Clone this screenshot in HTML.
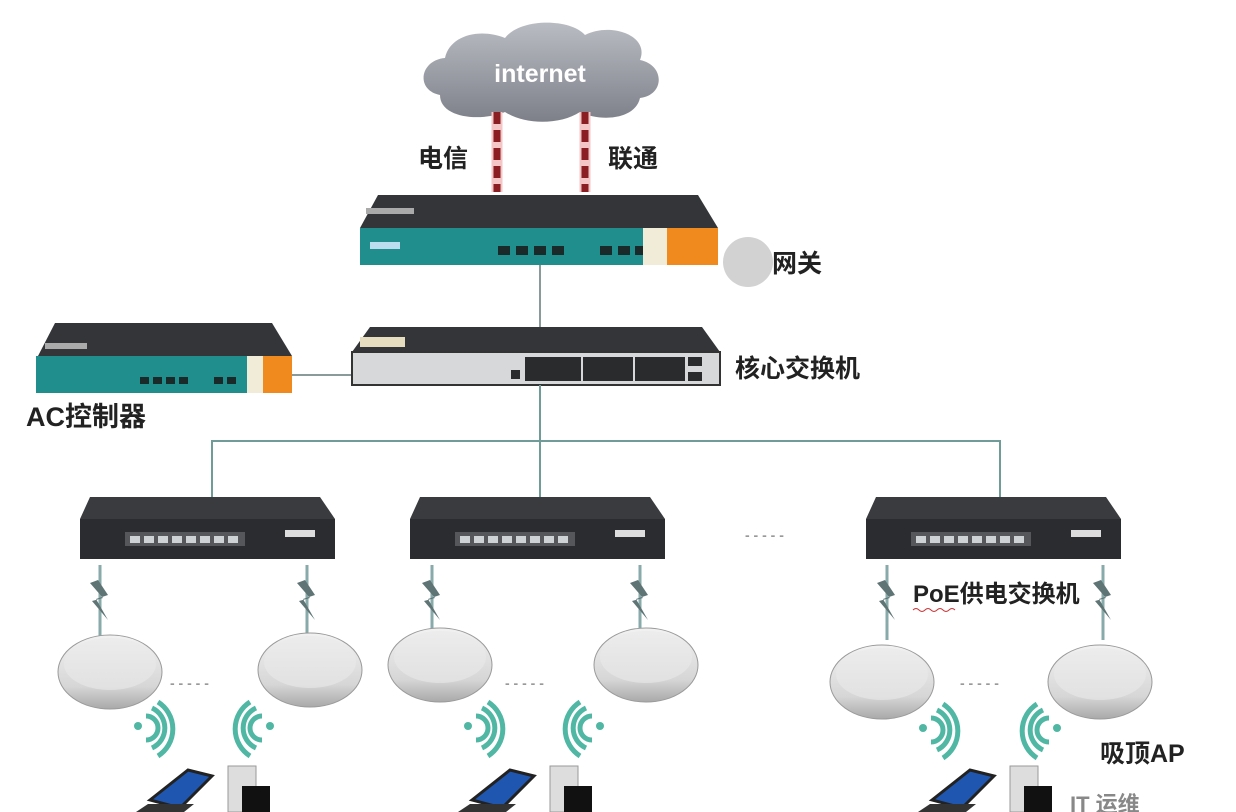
<!DOCTYPE html>
<html><head><meta charset="utf-8"><style>
html,body{margin:0;padding:0;background:#fff;}
svg{display:block}
text{font-family:"Liberation Sans","Noto Sans CJK SC",sans-serif;font-weight:bold;}
</style></head><body>
<svg width="1236" height="812" viewBox="0 0 1236 812" xmlns="http://www.w3.org/2000/svg">
<defs>
<linearGradient id="cl" x1="0" y1="0" x2="0" y2="1"><stop offset="0" stop-color="#b9bcc2"/><stop offset="1" stop-color="#7d8089"/></linearGradient>
<linearGradient id="ap" x1="0" y1="0" x2="0" y2="1"><stop offset="0" stop-color="#f2f2f2"/><stop offset="0.7" stop-color="#d6d6d6"/><stop offset="1" stop-color="#a9a9a9"/></linearGradient>
<g id="poe">
 <polygon points="10,0 240,0 255,22 0,22" fill="#3a3b3e"/>
 <rect x="0" y="22" width="255" height="40" fill="#2b2c2f"/>
 <rect x="45" y="35" width="120" height="14" fill="#55575a"/>
 <g fill="#cfd2d4"><rect x="50" y="39" width="10" height="7"/><rect x="64" y="39" width="10" height="7"/><rect x="78" y="39" width="10" height="7"/><rect x="92" y="39" width="10" height="7"/><rect x="106" y="39" width="10" height="7"/><rect x="120" y="39" width="10" height="7"/><rect x="134" y="39" width="10" height="7"/><rect x="148" y="39" width="10" height="7"/></g>
 <rect x="205" y="33" width="30" height="7" fill="#ddd"/>
</g>
<g id="apd">
 <ellipse cx="0" cy="0" rx="52" ry="37" fill="url(#ap)" stroke="#9a9a9a"/>
 <ellipse cx="0" cy="-8" rx="46" ry="26" fill="#e9e9e9" opacity="0.6"/>
</g>
<g id="bolt" fill="#5f7474"><line x1="0" y1="0" x2="0" y2="75" stroke="#8aa" stroke-width="3"/><polygon points="-2,15 8,30 -4,34 8,55 -8,36 3,33 -10,18"/></g>
<g id="wifi" fill="none" stroke="#4fb7a3" stroke-width="5">
 <circle cx="0" cy="0" r="4" fill="#4fb7a3" stroke="none"/>
 <path d="M8,-10 A12,12 0 0 1 8,14"/><path d="M14,-18 A22,22 0 0 1 14,22"/><path d="M20,-24 A32,32 0 0 1 20,30"/>
</g>
<g id="wifil" fill="none" stroke="#4fb7a3" stroke-width="5">
 <circle cx="0" cy="0" r="4" fill="#4fb7a3" stroke="none"/>
 <path d="M-8,-10 A12,12 0 0 0 -8,14"/><path d="M-14,-18 A22,22 0 0 0 -14,22"/><path d="M-20,-24 A32,32 0 0 0 -20,30"/>
</g>
<g id="dev">
 <polygon points="0,30 38,0 62,6 30,38" fill="#1f57b0" stroke="#222" stroke-width="3"/>
 <polygon points="-14,42 34,42 44,34 -2,34" fill="#333"/>
 <rect x="78" y="-4" width="28" height="46" fill="#ddd" stroke="#999"/>
 <rect x="92" y="16" width="28" height="26" fill="#111"/>
</g>
</defs>

<path d="M440,95 C415,90 420,60 445,58 C450,35 480,28 505,38 C520,18 570,18 585,35 C610,22 650,35 640,60 C665,65 665,95 640,98 C635,120 600,122 580,112 C560,125 525,125 505,112 C480,122 440,118 440,95 Z" fill="url(#cl)"/>
<text x="540" y="82" font-size="25" fill="#fff" text-anchor="middle">internet</text>
<line x1="497" y1="112" x2="497" y2="192" stroke="#f4c6c6" stroke-width="11"/>
<line x1="585" y1="112" x2="585" y2="192" stroke="#f4c6c6" stroke-width="11"/>
<line x1="497" y1="112" x2="497" y2="192" stroke="#8a1e22" stroke-width="7" stroke-dasharray="12,6"/>
<line x1="585" y1="112" x2="585" y2="192" stroke="#8a1e22" stroke-width="7" stroke-dasharray="12,6"/>
<text x="418" y="167" font-size="25" fill="#222">电信</text>
<text x="608" y="167" font-size="25" fill="#222">联通</text>

<polygon points="378,195 698,195 718,228 360,228" fill="#333538"/>
<rect x="366" y="208" width="48" height="6" fill="#aaa"/>
<rect x="360" y="228" width="358" height="37" fill="#1f8e8c"/>
<rect x="643" y="228" width="24" height="37" fill="#f0ecd8"/>
<rect x="667" y="228" width="51" height="37" fill="#f08a1e"/>
<g fill="#1a2a2a"><rect x="498" y="246" width="12" height="9"/><rect x="516" y="246" width="12" height="9"/><rect x="534" y="246" width="12" height="9"/><rect x="552" y="246" width="12" height="9"/><rect x="600" y="246" width="12" height="9"/><rect x="618" y="246" width="12" height="9"/><rect x="635" y="246" width="8" height="9"/></g>
<rect x="370" y="242" width="30" height="7" fill="#bde"/>
<circle cx="748" cy="262" r="25" fill="#d2d2d2"/>
<text x="772" y="272" font-size="25" fill="#222">网关</text>

<line x1="540" y1="265" x2="540" y2="328" stroke="#8a9a9a" stroke-width="2"/>

<polygon points="55,323 272,323 292,356 38,356" fill="#333538"/>
<rect x="45" y="343" width="42" height="6" fill="#aaa"/>
<rect x="36" y="356" width="256" height="37" fill="#1f8e8c"/>
<rect x="247" y="356" width="16" height="37" fill="#f0ecd8"/>
<rect x="263" y="356" width="29" height="37" fill="#f08a1e"/>
<g fill="#1a2a2a"><rect x="140" y="377" width="9" height="7"/><rect x="153" y="377" width="9" height="7"/><rect x="166" y="377" width="9" height="7"/><rect x="179" y="377" width="9" height="7"/><rect x="214" y="377" width="9" height="7"/><rect x="227" y="377" width="9" height="7"/></g>
<line x1="292" y1="375" x2="352" y2="375" stroke="#8a9a9a" stroke-width="2"/>
<text x="26" y="426" font-size="27" fill="#222">AC控制器</text>

<polygon points="370,327 702,327 720,352 352,352" fill="#333538"/>
<rect x="360" y="337" width="45" height="10" fill="#e6dcc0"/>
<rect x="352" y="352" width="368" height="33" fill="#d6d8da" stroke="#333" stroke-width="2"/>
<g fill="#2a2b2d"><rect x="525" y="357" width="56" height="24"/><rect x="583" y="357" width="50" height="24"/><rect x="635" y="357" width="50" height="24"/><rect x="688" y="357" width="14" height="9"/><rect x="688" y="372" width="14" height="9"/><rect x="511" y="370" width="9" height="9"/></g>
<text x="735" y="377" font-size="25" fill="#222">核心交换机</text>

<g stroke="#6f9c98" stroke-width="2" fill="none">
<line x1="540" y1="385" x2="540" y2="500"/>
<polyline points="212,500 212,441 1000,441 1000,500"/>
</g>

<use href="#poe" x="80" y="497"/>
<use href="#poe" x="410" y="497"/>
<use href="#poe" x="866" y="497"/>
<text x="745" y="540" font-size="14" fill="#999">- - - - -</text>
<text x="913" y="602" font-size="24" fill="#222">PoE供电交换机</text>
<path d="M913,610 q3,-3 6,0 t6,0 t6,0 t6,0 t6,0 t6,0 t6,0" stroke="#c33" fill="none" stroke-width="1"/>

<use href="#bolt" x="100" y="565"/>
<use href="#bolt" x="307" y="565"/>
<use href="#bolt" x="432" y="565"/>
<use href="#bolt" x="640" y="565"/>
<use href="#bolt" x="887" y="565"/>
<use href="#bolt" x="1103" y="565"/>

<use href="#apd" x="110" y="672"/>
<use href="#apd" x="310" y="670"/>
<use href="#apd" x="440" y="665"/>
<use href="#apd" x="646" y="665"/>
<use href="#apd" x="882" y="682"/>
<use href="#apd" x="1100" y="682"/>
<text x="170" y="688" font-size="14" fill="#999">- - - - -</text>
<text x="505" y="688" font-size="14" fill="#999">- - - - -</text>
<text x="960" y="688" font-size="14" fill="#999">- - - - -</text>

<use href="#wifi" x="138" y="726"/>
<use href="#wifil" x="270" y="726"/>
<use href="#wifi" x="468" y="726"/>
<use href="#wifil" x="600" y="726"/>
<use href="#wifi" x="923" y="728"/>
<use href="#wifil" x="1057" y="728"/>
<text x="1100" y="762" font-size="25" fill="#222">吸顶AP</text>

<use href="#dev" x="150" y="770"/>
<use href="#dev" x="472" y="770"/>
<use href="#dev" x="932" y="770"/>
<text x="1070" y="812" font-size="22" fill="#888" font-weight="normal">IT    运维</text>
</svg>
</body></html>
